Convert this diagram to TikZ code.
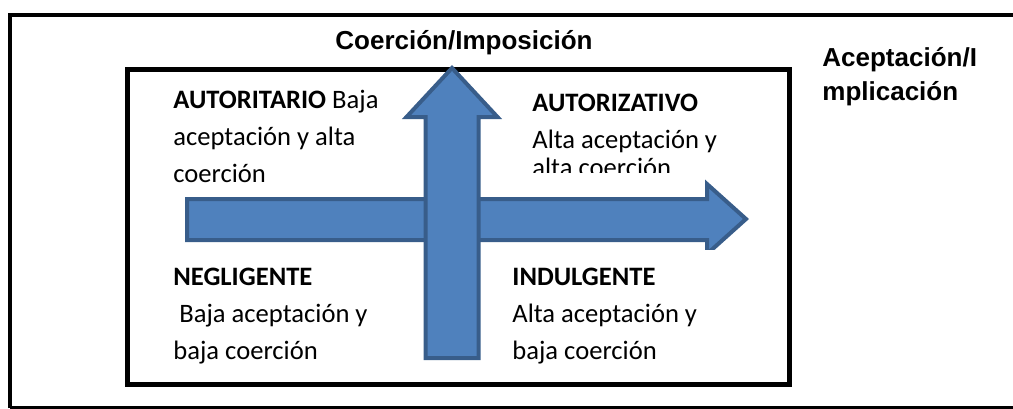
\documentclass[tikz,border=0pt]{standalone}
\usepackage{fontspec}
\setmainfont{Carlito}
\newfontfamily\arialfont{Liberation Sans}
\definecolor{arrowfill}{HTML}{4F81BD}
\definecolor{arrowline}{HTML}{385D8A}
\newcommand{\linesbox}[1]{\vtop{\baselineskip=18.5pt #1}}
\begin{document}
\begin{tikzpicture}[x=0.5pt,y=-0.5pt,
  bigarrow/.style={fill=arrowfill,draw=arrowline,line width=2pt,line join=miter},
  frame/.style={draw=black,line width=2pt},
  innerframe/.style={draw=black,line width=2.25pt},
  quad/.style={inner sep=0pt,anchor=base west,font=\fontsize{13.3pt}{18.5pt}\selectfont},
  axislabel/.style={inner sep=0pt,anchor=base west,font=\arialfont\bfseries\fontsize{13pt}{17pt}\selectfont}]
\useasboundingbox (0,0) rectangle (1013,408);
\begin{scope}
\clip (0,0) rectangle (1013,408);
\draw[frame] (10,408) -- (10,15) -- (1030,15);
\draw[frame] (10,408) -- (1030,408);
\end{scope}
\draw[innerframe] (127.5,69.5) rectangle (789.5,384.5);
% horizontal arrow
\draw[bigarrow] (187,199) -- (707,199) -- (707,184) -- (746,219) -- (707,254) -- (707,240) -- (187,240) -- cycle;
% white text box covering the arrow head bottom
\fill[white] (500,250) rectangle (770,378);
% vertical arrow
\draw[bigarrow] (425.5,358) -- (425.5,117) -- (406.5,117) -- (452,68) -- (497.5,117) -- (478.5,117) -- (478.5,358) -- cycle;
% labels
\node[axislabel] (coer) at (335,49) {Coerción/Imposición};
\node[axislabel] (acep) at (822,66) {\vtop{\baselineskip=17pt\hbox{Aceptación/I}\hbox{mplicación}}};
\node[quad] (autoritario) at (173,108) {\linesbox{\hbox{\textbf{AUTORITARIO} Baja}\hbox{aceptación y alta}\hbox{coerción}}};
\begin{scope}
\clip (500,80) rectangle (780,172);
\node[quad] (autorizativo) at (532,111) {\linesbox{\hbox{\textbf{AUTORIZATIVO}}\hbox{Alta aceptación y}\vskip-4.5pt\hbox{alta coerción}}};
\end{scope}
\node[quad] (negligente) at (173,285) {\linesbox{\hbox{\textbf{NEGLIGENTE}}\hbox{\ Baja aceptación y}\hbox{baja coerción}}};
\node[quad] (indulgente) at (512,285) {\linesbox{\hbox{\textbf{INDULGENTE}}\hbox{Alta aceptación y}\hbox{baja coerción}}};
\end{tikzpicture}
\end{document}
